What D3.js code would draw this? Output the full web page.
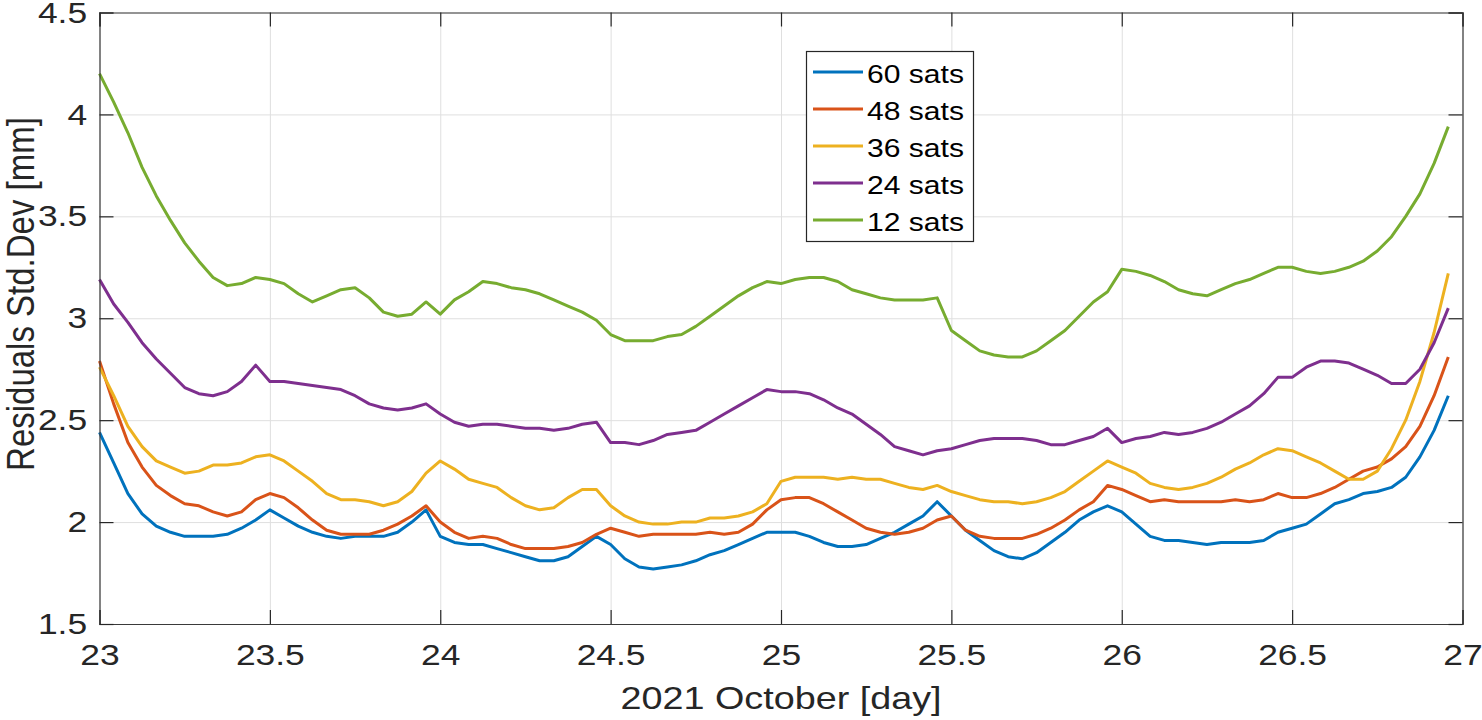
<!DOCTYPE html>
<html>
<head>
<meta charset="utf-8">
<script src="https://cdn.jsdelivr.net/npm/d3@7"></script>
<style>
  body { margin: 0; background: #fff; }
  svg { display: block; font-family: "Liberation Sans", Arial, Helvetica, sans-serif; }
</style>
</head>
<body>
<div id="chart"></div>
<script>
// hourly samples, 23 Oct 00:00 .. 26 Oct 23:00
const hours = d3.range(96);
const days = hours.map(h => 23 + h / 24);

const sats60 = [2.44, 2.29, 2.14, 2.04, 1.98, 1.95, 1.93, 1.93, 1.93, 1.94, 1.97, 2.01, 2.06, 2.02, 1.98, 1.95,
  1.93, 1.92, 1.93, 1.93, 1.93, 1.95, 2.00, 2.06, 1.93, 1.90, 1.89, 1.89, 1.87, 1.85, 1.83, 1.81,
  1.81, 1.83, 1.88, 1.93, 1.89, 1.82, 1.78, 1.77, 1.78, 1.79, 1.81, 1.84, 1.86, 1.89, 1.92, 1.95,
  1.95, 1.95, 1.93, 1.90, 1.88, 1.88, 1.89, 1.92, 1.95, 1.99, 2.03, 2.10, 2.03, 1.96, 1.91, 1.86,
  1.83, 1.82, 1.85, 1.90, 1.95, 2.01, 2.05, 2.08, 2.05, 1.99, 1.93, 1.91, 1.91, 1.90, 1.89, 1.90,
  1.90, 1.90, 1.91, 1.95, 1.97, 1.99, 2.04, 2.09, 2.11, 2.14, 2.15, 2.17, 2.22, 2.32, 2.45, 2.62];

const sats48 = [2.79, 2.58, 2.39, 2.27, 2.18, 2.13, 2.09, 2.08, 2.05, 2.03, 2.05, 2.11, 2.14, 2.12, 2.07, 2.01,
  1.96, 1.94, 1.94, 1.94, 1.96, 1.99, 2.03, 2.08, 2.00, 1.95, 1.92, 1.93, 1.92, 1.89, 1.87, 1.87,
  1.87, 1.88, 1.90, 1.94, 1.97, 1.95, 1.93, 1.94, 1.94, 1.94, 1.94, 1.95, 1.94, 1.95, 1.99, 2.06,
  2.11, 2.12, 2.12, 2.09, 2.05, 2.01, 1.97, 1.95, 1.94, 1.95, 1.97, 2.01, 2.03, 1.96, 1.93, 1.92,
  1.92, 1.92, 1.94, 1.97, 2.01, 2.06, 2.10, 2.18, 2.16, 2.13, 2.10, 2.11, 2.10, 2.10, 2.10, 2.10,
  2.11, 2.10, 2.11, 2.14, 2.12, 2.12, 2.14, 2.17, 2.21, 2.25, 2.27, 2.31, 2.37, 2.47, 2.62, 2.81];

const sats36 = [2.76, 2.62, 2.47, 2.37, 2.30, 2.27, 2.24, 2.25, 2.28, 2.28, 2.29, 2.32, 2.33, 2.30, 2.25, 2.20,
  2.14, 2.11, 2.11, 2.10, 2.08, 2.10, 2.15, 2.24, 2.30, 2.26, 2.21, 2.19, 2.17, 2.12, 2.08, 2.06,
  2.07, 2.12, 2.16, 2.16, 2.08, 2.03, 2.00, 1.99, 1.99, 2.00, 2.00, 2.02, 2.02, 2.03, 2.05, 2.09,
  2.20, 2.22, 2.22, 2.22, 2.21, 2.22, 2.21, 2.21, 2.19, 2.17, 2.16, 2.18, 2.15, 2.13, 2.11, 2.10,
  2.10, 2.09, 2.10, 2.12, 2.15, 2.20, 2.25, 2.30, 2.27, 2.24, 2.19, 2.17, 2.16, 2.17, 2.19, 2.22,
  2.26, 2.29, 2.33, 2.36, 2.35, 2.32, 2.29, 2.25, 2.21, 2.21, 2.25, 2.36, 2.50, 2.69, 2.93, 3.22];

const sats24 = [3.19, 3.07, 2.98, 2.88, 2.80, 2.73, 2.66, 2.63, 2.62, 2.64, 2.69, 2.77, 2.69, 2.69, 2.68, 2.67,
  2.66, 2.65, 2.62, 2.58, 2.56, 2.55, 2.56, 2.58, 2.53, 2.49, 2.47, 2.48, 2.48, 2.47, 2.46, 2.46,
  2.45, 2.46, 2.48, 2.49, 2.39, 2.39, 2.38, 2.40, 2.43, 2.44, 2.45, 2.49, 2.53, 2.57, 2.61, 2.65,
  2.64, 2.64, 2.63, 2.60, 2.56, 2.53, 2.48, 2.43, 2.37, 2.35, 2.33, 2.35, 2.36, 2.38, 2.40, 2.41,
  2.41, 2.41, 2.40, 2.38, 2.38, 2.40, 2.42, 2.46, 2.39, 2.41, 2.42, 2.44, 2.43, 2.44, 2.46, 2.49,
  2.53, 2.57, 2.63, 2.71, 2.71, 2.76, 2.79, 2.79, 2.78, 2.75, 2.72, 2.68, 2.68, 2.75, 2.88, 3.05];

const sats12 = [4.20, 4.06, 3.91, 3.74, 3.60, 3.48, 3.37, 3.28, 3.20, 3.16, 3.17, 3.20, 3.19, 3.17, 3.12, 3.08,
  3.11, 3.14, 3.15, 3.10, 3.03, 3.01, 3.02, 3.08, 3.02, 3.09, 3.13, 3.18, 3.17, 3.15, 3.14, 3.12,
  3.09, 3.06, 3.03, 2.99, 2.92, 2.89, 2.89, 2.89, 2.91, 2.92, 2.96, 3.01, 3.06, 3.11, 3.15, 3.18,
  3.17, 3.19, 3.20, 3.20, 3.18, 3.14, 3.12, 3.10, 3.09, 3.09, 3.09, 3.10, 2.94, 2.89, 2.84, 2.82,
  2.81, 2.81, 2.84, 2.89, 2.94, 3.01, 3.08, 3.13, 3.24, 3.23, 3.21, 3.18, 3.14, 3.12, 3.11, 3.14,
  3.17, 3.19, 3.22, 3.25, 3.25, 3.23, 3.22, 3.23, 3.25, 3.28, 3.33, 3.40, 3.50, 3.61, 3.76, 3.94];

const seriesNames = ["60 sats", "48 sats", "36 sats", "24 sats", "12 sats"];
const seriesValues = [sats60, sats48, sats36, sats24, sats12];
const colors = ["#0072BD", "#D95319", "#EDB120", "#7E2F8E", "#77AC30"];

const xTicks = [23, 23.5, 24, 24.5, 25, 25.5, 26, 26.5, 27];
const yTicks = [1.5, 2, 2.5, 3, 3.5, 4, 4.5];

const W = 1482, H = 720;
const margin = { top: 12.5, right: 19.5, bottom: 96, left: 99.5 };
const width = W - margin.left - margin.right;
const height = H - margin.top - margin.bottom;
const stretch = 1.18; // text in the reference is a bit wider than tall

const svg = d3.select("#chart").append("svg")
  .attr("width", W)
  .attr("height", H);

const g = svg.append("g")
  .attr("transform", `translate(${margin.left},${margin.top})`);

const x = d3.scaleLinear().domain([23, 27]).range([0, width]);
const y = d3.scaleLinear().domain([1.5, 4.5]).range([height, 0]);

// grid
g.append("g")
  .attr("transform", `translate(0,${height})`)
  .call(d3.axisBottom(x).tickValues(xTicks).tickSize(-height).tickFormat(""))
  .call(a => a.select(".domain").remove())
  .selectAll("line").attr("stroke", "#dfdfdf").attr("stroke-width", 1);

g.append("g")
  .call(d3.axisLeft(y).tickValues(yTicks).tickSize(-width).tickFormat(""))
  .call(a => a.select(".domain").remove())
  .selectAll("line").attr("stroke", "#dfdfdf").attr("stroke-width", 1);

// series
const line = d3.line()
  .x((d, i) => x(days[i]))
  .y(d => y(d));

g.append("g")
  .selectAll("path")
  .data(seriesValues)
  .enter().append("path")
  .attr("d", line)
  .attr("fill", "none")
  .attr("stroke", (d, i) => colors[i])
  .attr("stroke-width", 3)
  .attr("stroke-linejoin", "round");

// axes, ticks inward on all four sides
const tickLen = 14;
const xAxis = g.append("g")
  .attr("class", "frame")
  .attr("transform", `translate(0,${height})`)
  .call(d3.axisBottom(x).tickValues(xTicks).tickSize(-tickLen).tickPadding(20).tickFormat(d3.format("")));

const yAxis = g.append("g")
  .attr("class", "frame")
  .call(d3.axisLeft(y).tickValues(yTicks).tickSize(-tickLen).tickPadding(10).tickFormat(d3.format("")));

g.append("g")
  .attr("class", "frame")
  .call(d3.axisTop(x).tickValues(xTicks).tickSize(-tickLen).tickFormat(""));

g.append("g")
  .attr("class", "frame")
  .attr("transform", `translate(${width},0)`)
  .call(d3.axisRight(y).tickValues(yTicks).tickSize(-tickLen).tickFormat(""));

g.selectAll(".frame .domain").attr("stroke", "#3a3a3a").attr("stroke-width", 1.2);
g.selectAll(".frame .tick line").attr("stroke", "#262626").attr("stroke-width", 1.2);

[xAxis, yAxis].forEach(a => a.selectAll("text")
  .attr("font-size", 30)
  .attr("font-family", "'Liberation Sans', Arial, sans-serif")
  .attr("fill", "#262626")
  .attr("transform", `scale(${stretch},1)`));
yAxis.selectAll("text").attr("x", -10.5);

// axis labels
svg.append("text")
  .attr("transform", `translate(${margin.left + width / 2},709) scale(${stretch},1)`)
  .attr("text-anchor", "middle")
  .attr("font-size", 32)
  .attr("fill", "#262626")
  .text("2021 October [day]");

svg.append("text")
  .attr("transform", `translate(34,294) scale(${stretch},1) rotate(-90)`)
  .attr("text-anchor", "middle")
  .attr("font-size", 33)
  .attr("fill", "#262626")
  .text("Residuals Std.Dev [mm]");

// legend
const legend = svg.append("g");
legend.append("rect")
  .attr("x", 806.5).attr("y", 51.5)
  .attr("width", 167).attr("height", 190)
  .attr("fill", "#fff")
  .attr("stroke", "#262626")
  .attr("stroke-width", 1.2);

const rows = legend.selectAll("g.row")
  .data(seriesNames)
  .enter().append("g")
  .attr("class", "row")
  .attr("transform", (d, i) => `translate(0,${72 + i * 37})`);

rows.append("line")
  .attr("x1", 813).attr("x2", 863)
  .attr("stroke", (d, i) => colors[i])
  .attr("stroke-width", 3);

rows.append("text")
  .attr("transform", `translate(867,11) scale(${stretch},1)`)
  .attr("font-size", 25.5)
  .attr("fill", "#000")
  .text(d => d);
</script>
</body>
</html>
